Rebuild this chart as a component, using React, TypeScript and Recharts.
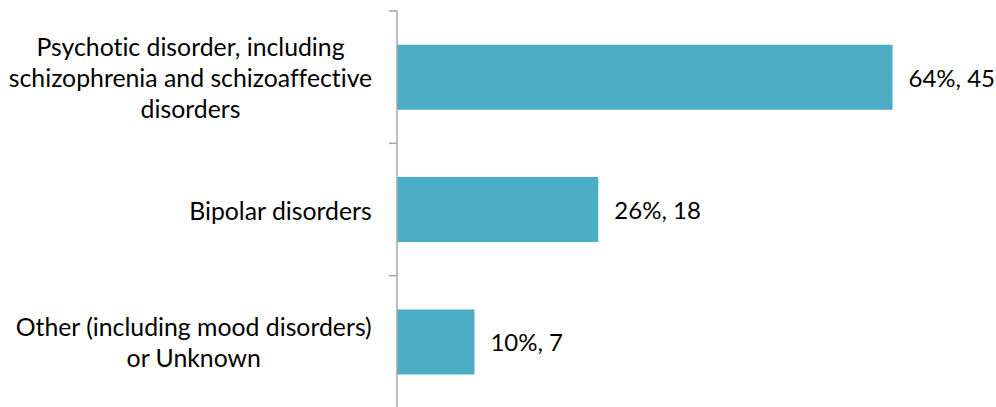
import React from "react";
import { BarChart, Bar, XAxis, YAxis, LabelList } from "recharts";

const categories = [
  "Psychotic disorder, including\nschizophrenia and schizoaffective\ndisorders",
  "Bipolar disorders",
  "Other (including mood disorders)\nor Unknown",
];
const percents = [64, 26, 10];
const counts = [45, 18, 7];

const data = categories.map((name, i) => ({ name, pct: percents[i], count: counts[i] }));

const FONT = "Lato, 'Noto Sans', sans-serif";
const FONT_SIZE = 24.8;
const LINE_H = 31;
const LABEL_RIGHT = 372;
const AXIS_X = 397;
const noLig = { fontVariantLigatures: "none" as const, fontFeatureSettings: "'liga' 0, 'clig' 0" };

let ctx: CanvasRenderingContext2D | null = null;
function textWidth(s: string) {
  if (!ctx) ctx = document.createElement("canvas").getContext("2d");
  if (!ctx) return s.length * FONT_SIZE * 0.5;
  ctx.font = `${FONT_SIZE}px Lato`;
  return ctx.measureText(s).width;
}

// category label: block right aligned, lines centred on the widest one
function CategoryTick(props: any) {
  const { y, payload, index } = props;
  const lines: string[] = String(payload.value).split("\n");
  const w = Math.max(...lines.map(textWidth));
  const cx = LABEL_RIGHT - w / 2;
  const half = payload.offset || 0;
  const y0 = y - ((lines.length - 1) * LINE_H) / 2;
  return (
    <g>
      <line x1={AXIS_X - 8} x2={AXIS_X} y1={y - half} y2={y - half} stroke="#a6a6a6" strokeWidth={1.5} />
      {index === categories.length - 1 && (
        <line x1={AXIS_X - 8} x2={AXIS_X} y1={y + half} y2={y + half} stroke="#a6a6a6" strokeWidth={1.5} />
      )}
      <text x={cx} y={y0} textAnchor="middle" dominantBaseline="central" fill="#000" fontSize={FONT_SIZE} fontFamily={FONT} style={noLig}>
        {lines.map((l, i) => (
          <tspan key={i} x={cx} y={y0 + i * LINE_H} dominantBaseline="central">{l}</tspan>
        ))}
      </text>
    </g>
  );
}

export default function App() {
  return (
    <div style={{ position: "fixed", top: 0, left: 0, width: 996, height: 407, overflow: "hidden", background: "#fff" }}>
      <BarChart
        width={996}
        height={412}
        data={data}
        layout="vertical"
        margin={{ top: 11, right: 57, bottom: 4, left: 0 }}
        barCategoryGap="25.5%"
      >
        <XAxis type="number" domain={[0, 70]} hide />
        <YAxis
          type="category"
          dataKey="name"
          width={AXIS_X}
          tickLine={false}
          axisLine={{ stroke: "#a6a6a6", strokeWidth: 1.5 }}
          tick={<CategoryTick />}
          interval={0}
        />
        <Bar dataKey="pct" fill="#4bacc6" isAnimationActive={false}>
          <LabelList
            dataKey="pct"
            content={(p: any) => {
              const { x, y, width, height, index } = p;
              return (
                <text x={x + width + 16} y={y + height / 2} dominantBaseline="central" fontSize={24} fontFamily={FONT} fill="#000" style={noLig}>
                  {`${percents[index]}%, ${counts[index]}`}
                </text>
              );
            }}
          />
        </Bar>
      </BarChart>
    </div>
  );
}
